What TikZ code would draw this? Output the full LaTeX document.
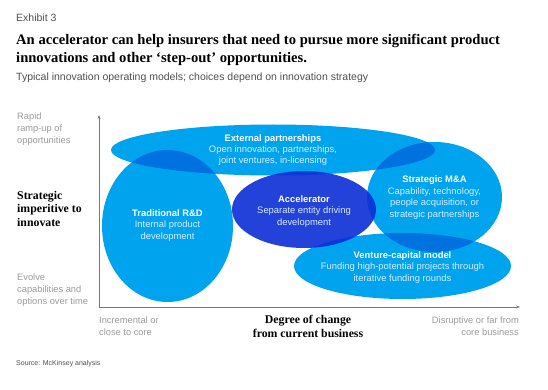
\documentclass[tikz,border=0pt]{standalone}
\usepackage{fontspec}
\setmainfont{Liberation Sans}
\newfontfamily\serifbold{Liberation Serif}
\usetikzlibrary{shapes.geometric,arrows.meta}
\definecolor{lblue}{RGB}{0,164,238}
\definecolor{lover}{RGB}{0,114,224}
\definecolor{accblue}{RGB}{12,46,213}
\definecolor{axisgray}{RGB}{120,120,120}
\definecolor{lightgray}{RGB}{155,155,155}
\definecolor{darkgray}{RGB}{80,80,80}
\definecolor{desc}{RGB}{214,236,250}
\begin{document}
\begin{tikzpicture}[x=1pt,y=-1pt,
  blob/.style={ellipse, fill=lblue, inner sep=0pt},
  acc/.style={ellipse, fill=accblue, fill opacity=0.9, inner sep=0pt},
  inlabel/.style={align=center, text=white, font=\fontsize{9.4}{11.4}\selectfont, inner sep=0pt},
  graylab/.style={align=left, text=lightgray, font=\fontsize{9.3}{11.7}\selectfont, inner sep=0pt},
  seriflab/.style={font=\serifbold\bfseries\fontsize{11.8}{13.6}\selectfont, inner sep=0pt},
  axis/.style={draw=axisgray, line width=0.7pt, -{Stealth[length=4pt,width=3pt]}}
]
\useasboundingbox[fill=white] (0,0) rectangle (548,390);

% header
\node[anchor=west, text=darkgray, font=\fontsize{10.5}{12}\selectfont, inner sep=0pt] (exh) at (16,18) {Exhibit 3};
\node[anchor=north west, align=left, font=\serifbold\bfseries\fontsize{14.6}{18}\selectfont, inner sep=0pt] (title) at (16,34)
  {An accelerator can help insurers that need to pursue more significant product\\innovations and other ‘step-out’ opportunities.};
\node[anchor=west, text=darkgray, font=\fontsize{10.5}{12}\selectfont, inner sep=0pt] (sub) at (16,78)
  {Typical innovation operating models; choices depend on innovation strategy};

% ellipses
\node[blob, minimum width=324, minimum height=51] (ext) at (273,150) {};
\node[blob, minimum width=131, minimum height=152] (trd) at (167.5,226) {};
\node[blob, minimum width=135, minimum height=110] (mna) at (434.5,197) {};
\node[blob, minimum width=217, minimum height=66] (vc) at (402.5,266) {};
% overlaps
\begin{scope}
  \clip (273,150) ellipse [x radius=162, y radius=25.5];
  \fill[lover] (167.5,226) ellipse [x radius=65.5, y radius=76];
  \fill[lover] (434.5,197) ellipse [x radius=67.5, y radius=55];
\end{scope}
\begin{scope}
  \clip (434.5,197) ellipse [x radius=67.5, y radius=55];
  \fill[lover] (402.5,266) ellipse [x radius=108.5, y radius=33];
\end{scope}
\node[acc, minimum width=144, minimum height=77] (accel) at (304,209.5) {};

% ellipse labels
\node[inlabel] (extl) at (273,150) {\textbf{External partnerships}\\\textcolor{desc}{Open innovation, partnerships,}\\\textcolor{desc}{joint ventures, in-licensing}};
\node[inlabel] (trdl) at (167.5,225.5) {\textbf{Traditional R\&D}\\\textcolor{desc}{Internal product}\\\textcolor{desc}{development}};
\node[inlabel] (accl) at (304,211.5) {\textbf{Accelerator}\\\textcolor{desc}{Separate entity driving}\\\textcolor{desc}{development}};
\node[inlabel] (mnal) at (434.5,197.5) {\textbf{Strategic M\&A}\\\textcolor{desc}{Capability, technology,}\\\textcolor{desc}{people acquisition, or}\\\textcolor{desc}{strategic partnerships}};
\node[inlabel] (vcl) at (402.5,267.5) {\textbf{Venture-capital model}\\\textcolor{desc}{Funding high-potential projects through}\\\textcolor{desc}{iterative funding rounds}};

% axes
\coordinate (origin) at (99,307);
\coordinate (ytop) at (99,115);
\coordinate (xend) at (520,307);
\draw[axis] (origin) -- (ytop);
\draw[axis] (origin) -- (xend);

% axis labels
\node[graylab, anchor=north west] (rapid) at (17,113) {Rapid\\ramp-up of\\opportunities};
\node[seriflab, anchor=north west, align=left] (strat) at (17,191) {Strategic\\imperitive to\\innovate};
\node[graylab, anchor=north west] (evolve) at (17,274) {Evolve\\capabilities and\\options over time};
\node[graylab, anchor=north west] (incr) at (99,317) {Incremental or\\close to core};
\node[seriflab, anchor=north, align=center] (deg) at (308,315) {Degree of change\\from current business};
\node[graylab, anchor=north east, align=right] (disr) at (519,317) {Disruptive or far from\\core business};

% source
\node[anchor=west, text=darkgray, font=\fontsize{7}{8}\selectfont, inner sep=0pt] (src) at (16,364) {Source: McKinsey analysis};
\end{tikzpicture}
\end{document}
